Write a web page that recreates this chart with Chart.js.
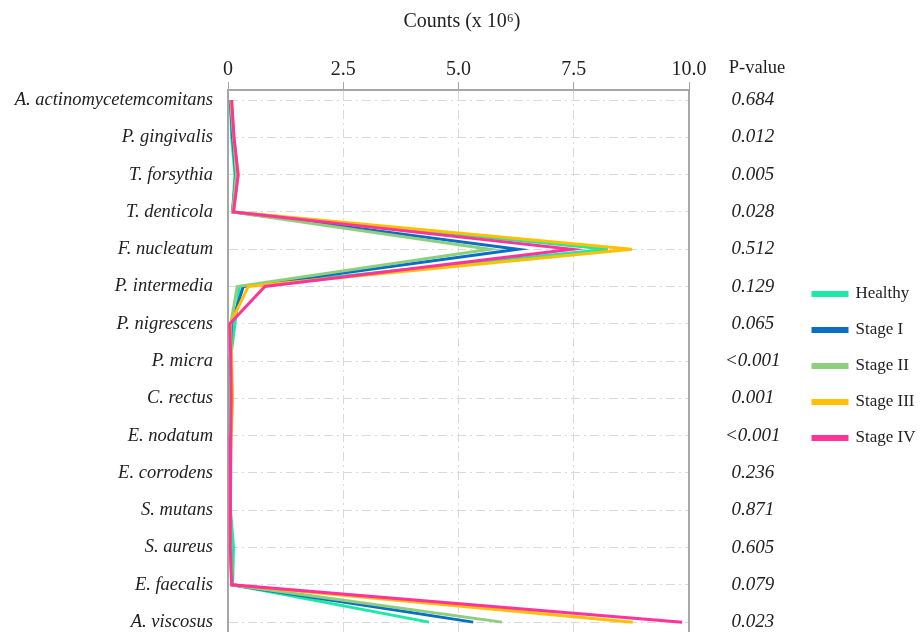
<!DOCTYPE html>
<html>
<head>
<meta charset="utf-8">
<script src="https://cdn.jsdelivr.net/npm/chart.js@4/dist/chart.umd.min.js"></script>
<style>
  html, body { margin: 0; padding: 0; background: #fff; overflow: hidden; }
  canvas { display: block; }
</style>
</head>
<body>
<canvas id="chart" width="924" height="640"></canvas>
<script>
// species on the vertical axis
const species = [
  'A. actinomycetemcomitans', 'P. gingivalis', 'T. forsythia', 'T. denticola',
  'F. nucleatum', 'P. intermedia', 'P. nigrescens', 'P. micra', 'C. rectus',
  'E. nodatum', 'E. corrodens', 'S. mutans', 'S. aureus', 'E. faecalis', 'A. viscosus'
];
const pValues = [
  '0.684', '0.012', '0.005', '0.028', '0.512', '0.129', '0.065', '<0.001',
  '0.001', '<0.001', '0.236', '0.871', '0.605', '0.079', '0.023'
];
const xTicks = [0, 2.5, 5, 7.5, 10];

// counts (x 10^6)
const healthy = [0.05, 0.08, 0.15, 0.10, 8.24, 0.25, 0.15, 0.05, 0.06, 0.06, 0.05, 0.05, 0.12, 0.10, 4.36];
const stage1  = [0.05, 0.10, 0.17, 0.10, 6.29, 0.33, 0.08, 0.05, 0.06, 0.06, 0.05, 0.05, 0.05, 0.09, 5.32];
const stage2  = [0.06, 0.12, 0.18, 0.10, 5.68, 0.20, 0.06, 0.05, 0.06, 0.06, 0.05, 0.05, 0.05, 0.09, 5.94];
const stage3  = [0.07, 0.13, 0.22, 0.12, 8.76, 0.44, 0.05, 0.08, 0.10, 0.07, 0.05, 0.05, 0.05, 0.08, 8.78];
const stage4  = [0.08, 0.13, 0.22, 0.12, 7.46, 0.80, 0.04, 0.06, 0.07, 0.06, 0.05, 0.05, 0.05, 0.08, 9.85];

const seriesNames = ['Healthy', 'Stage I', 'Stage II', 'Stage III', 'Stage IV'];
const seriesColors = ['#1EE8A6', '#0A6FC2', '#8ECF7E', '#FFC000', '#FF3399'];
const seriesData = [healthy, stage1, stage2, stage3, stage4];

const serif = '"Liberation Serif", "Times New Roman", serif';
const gridColor = '#d9d9d9';
const borderColor = '#a6a6a6';
const dashDot = [9, 4, 2, 4];

// the species rows sit a little inside the plot frame
const rowMargin = 0.27;
const rowTicks = (scale) => { scale.ticks = species.map((_, i) => ({ value: i })); };

// header above the p-value column
const pValueHeader = {
  id: 'pValueHeader',
  afterDraw(chart) {
    const { ctx, chartArea } = chart;
    ctx.save();
    ctx.font = '18.5px ' + serif;
    ctx.fillStyle = '#222';
    ctx.textAlign = 'center';
    ctx.textBaseline = 'middle';
    ctx.fillText('P-value', chartArea.right + 68, chartArea.top - 22);
    ctx.restore();
  }
};

// keep the label overhang from shrinking the plot
const noLabelPadding = (scale) => {
  scale.paddingTop = 0;
  scale.paddingBottom = 0;
};

new Chart(document.getElementById('chart'), {
  type: 'line',
  data: {
    datasets: seriesData.map((d, i) => ({
      label: seriesNames[i],
      data: d.map((v, j) => ({ x: v, y: j })),
      borderColor: seriesColors[i],
      backgroundColor: seriesColors[i],
      borderWidth: 3,
      pointRadius: 0,
      tension: 0,
      order: 5 - i
    }))
  },
  options: {
    indexAxis: 'y',
    responsive: false,
    animation: false,
    layout: { padding: { top: 0, right: 0, bottom: 7.8, left: 0 } },
    scales: {
      x: {
        type: 'linear',
        position: 'top',
        min: 0,
        max: 10,
        afterBuildTicks: (scale) => { scale.ticks = xTicks.map(v => ({ value: v })); },
        afterFit: (scale) => { scale.height = 49; },
        ticks: {
          font: { family: serif, size: 20 },
          color: '#222',
          padding: 0,
          callback: (v) => (v === 0 ? '0' : v.toFixed(1))
        },
        grid: {
          color: gridColor,
          tickLength: 8,
          tickColor: borderColor,
          tickBorderDash: []
        },
        border: { display: true, color: borderColor, width: 2, dash: dashDot }
      },
      y: {
        type: 'linear',
        position: 'left',
        reverse: true,
        min: -rowMargin,
        max: species.length - 1 + rowMargin,
        afterBuildTicks: rowTicks,
        afterFit: (scale) => { scale.width = 228; noLabelPadding(scale); },
        ticks: {
          autoSkip: false,
          font: { family: serif, size: 18.5, style: 'italic' },
          color: '#222',
          padding: 15,
          callback: (v) => species[v]
        },
        grid: {
          color: gridColor,
          drawTicks: false
        },
        border: { display: true, color: borderColor, width: 2, dash: dashDot }
      },
      y2: {
        type: 'linear',
        position: 'right',
        display: true,
        reverse: true,
        min: -rowMargin,
        max: species.length - 1 + rowMargin,
        afterBuildTicks: rowTicks,
        afterFit: (scale) => { scale.width = 105; noLabelPadding(scale); },
        ticks: {
          autoSkip: false,
          crossAlign: 'center',
          padding: 36,
          font: { family: serif, size: 19, style: 'italic' },
          color: '#222',
          callback: (v) => pValues[v]
        },
        grid: { display: false, drawTicks: false },
        border: { display: true, color: borderColor, width: 2 }
      }
    },
    plugins: {
      title: {
        display: true,
        text: 'Counts (x 10\u2076)',
        font: { family: serif, size: 20, weight: 'normal' },
        color: '#222',
        padding: { top: 10, bottom: 7 }
      },
      legend: {
        position: 'right',
        align: 'start',
        maxWidth: 130,
        title: {
          display: true,
          text: ' ',
          padding: { top: 246, bottom: 0 },
          font: { family: serif, size: 17 }
        },
        labels: {
          boxWidth: 34,
          boxHeight: 3,
          padding: 19,
          font: { family: serif, size: 17 },
          color: '#222',
          sort: (a, b) => a.datasetIndex - b.datasetIndex
        }
      },
      tooltip: { enabled: false }
    }
  },
  plugins: [pValueHeader]
});
</script>
</body>
</html>
